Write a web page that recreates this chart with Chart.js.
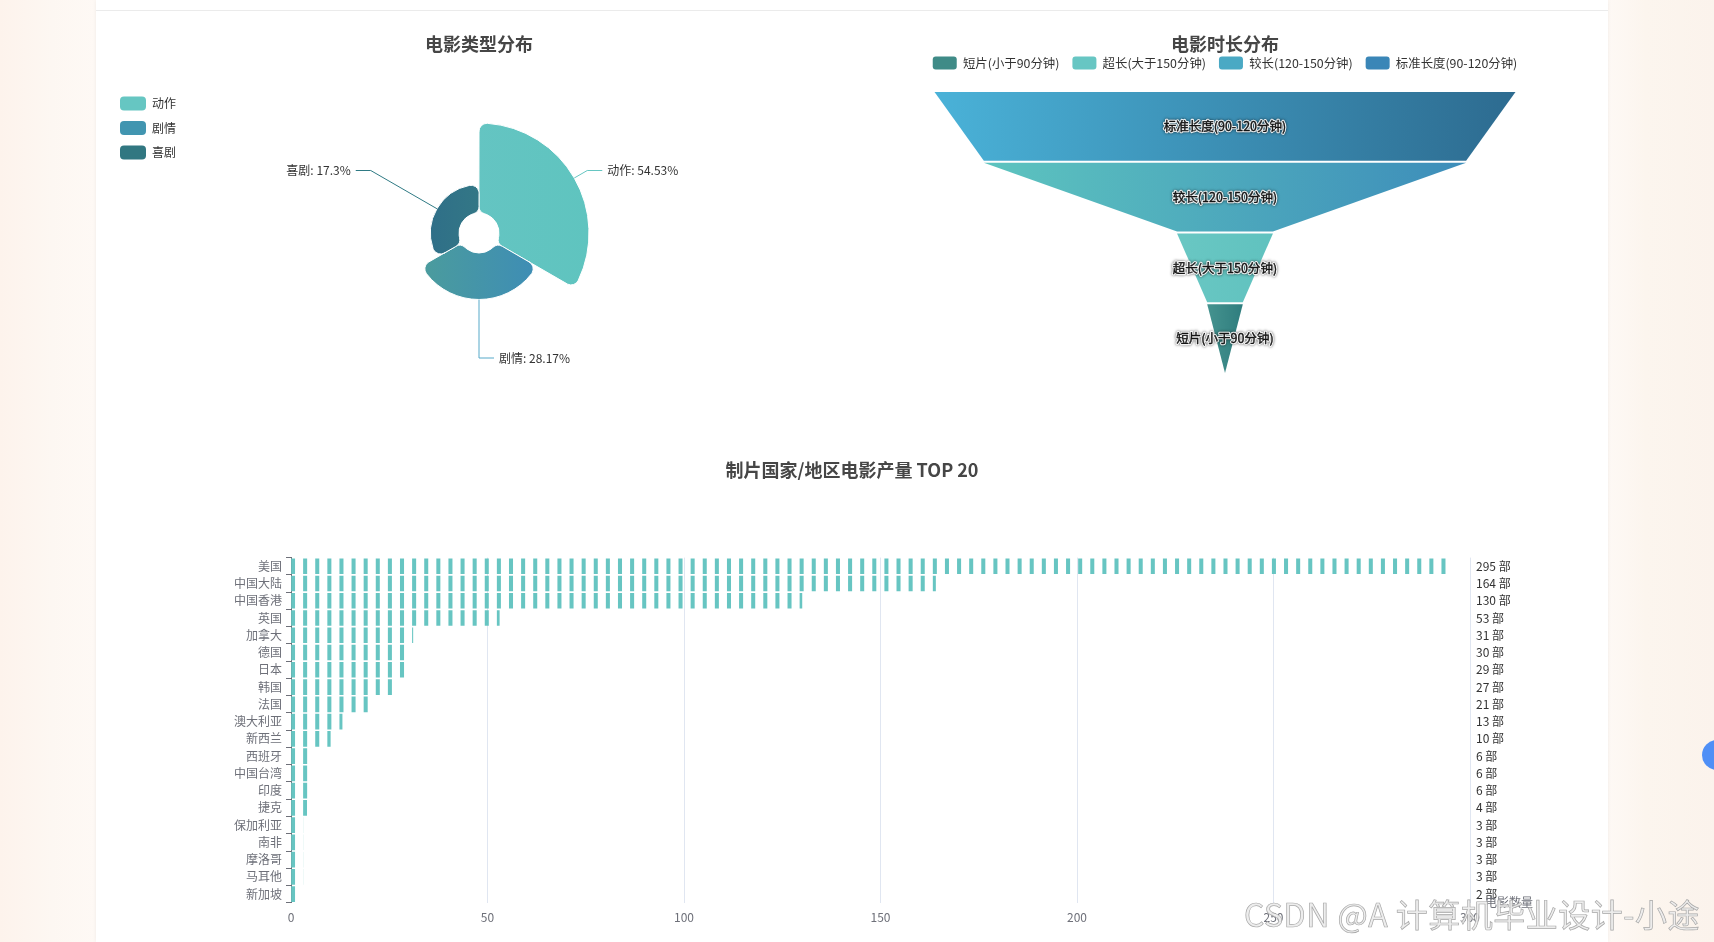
<!DOCTYPE html>
<html lang="zh-CN">
<head>
<meta charset="utf-8">
<title>电影数据分析</title>
<script src="https://cdn.jsdelivr.net/npm/chart.js@4.4.1/dist/chart.umd.min.js"></script>
<style>
  html, body { margin: 0; padding: 0; }
  body {
    width: 1714px; height: 942px; overflow: hidden; position: relative;
    background: linear-gradient(90deg, #fdf3ec 0%, #fdf7f2 3%, #fef9f5 5.6%, #fef9f5 93.8%, #fcf5ee 96%, #fbf3ec 100%);
    font-family: "Noto Sans CJK SC", sans-serif;
  }
  .card { position: absolute; left: 96px; top: 0; width: 1512px; height: 942px; background: #fff; box-shadow: 0 0 4px rgba(0,0,0,0.06); }
  .divider { position: absolute; left: 96px; top: 10px; width: 1512px; height: 1px; background: #ebebeb; }
  .box { position: absolute; }
  .watermark {
    position: absolute; left: 1244px; top: 890px; font-size: 32px; white-space: nowrap;
    color: rgba(235,235,235,0.9); -webkit-text-stroke: 0.7px #a8a8a8; letter-spacing: 0.5px;
  }
  .fab { position: absolute; left: 1702px; top: 740px; width: 30px; height: 30px; border-radius: 50%; background: #4f8ff6; }
</style>
</head>
<body>
<div class="card"></div>
<div class="divider"></div>
<div class="box" style="left:96px;top:0;width:766px;height:400px"><canvas id="genreChart"></canvas></div>
<div class="box" style="left:853px;top:0;width:744px;height:400px"><canvas id="durationChart"></canvas></div>
<div class="box" style="left:96px;top:440px;width:1512px;height:502px"><canvas id="countryChart"></canvas></div>
<div class="watermark">CSDN @A 计算机毕业设计-小途</div>
<div class="fab"></div>
<script>
/* Valors per tots */
const FONT = '"Noto Sans CJK SC", "Microsoft YaHei", sans-serif'
Chart.defaults.font.family = FONT
Chart.defaults.font.size = 12
Chart.defaults.color = '#333'

/* 电影类型 */
const genreLabels = ['动作', '剧情', '喜剧']
const genreShares = [54.53, 28.17, 17.3]
const genreColors = [['#69c5c5', '#5fc4bf'], ['#4c9d9b', '#3d8cb7'], ['#2f6f88', '#377f84']]
const genreLegendColors = ['#66c6c2', '#4195b0', '#317781']
const genreLineColors = ['#66c6c2', '#56a9c9', '#2f7a84']

/* 电影时长 */
const durationLabels = ['短片(小于90分钟)', '超长(大于150分钟)', '较长(120-150分钟)', '标准长度(90-120分钟)']
const durationCounts = [13, 35, 176, 212]
const durationColors = [['#45938f', '#2f7d7e'], ['#69c7c3', '#60c2bf'], ['#5dc4bf', '#3d8dba'], ['#4ab2d8', '#2d6b90']]
const durationLegendColors = ['#3f8b87', '#67c6c3', '#4aa9c4', '#3a86b7']

/* 国家/地区产量 */
const countryLabels = ['美国', '中国大陆', '中国香港', '英国', '加拿大', '德国', '日本', '韩国', '法国', '澳大利亚',
  '新西兰', '西班牙', '中国台湾', '印度', '捷克', '保加利亚', '南非', '摩洛哥', '马耳他', '新加坡']
const countryCounts = [295, 164, 130, 53, 31, 30, 29, 27, 21, 13, 10, 6, 6, 6, 4, 3, 3, 3, 3, 2]
const countryTicks = [0, 300]

const titleFont = { size: 18, weight: 'bold' }

/* ---------- 玫瑰图 ---------- */
const ROSE_INNER = 20
const ROSE_OUTER = 110

const roseFill = (c) => {
    const chart = c.chart
    const r = chart.scales.r
    if (!chart.chartArea || !r || c.type !== 'data') return genreLegendColors[c.dataIndex]
    const rr = r.getDistanceFromCenterForValue(genreShares[c.dataIndex])
    const g = chart.ctx.createLinearGradient(r.xCenter - rr, 0, r.xCenter + rr, 0)
    g.addColorStop(0, genreColors[c.dataIndex][0])
    g.addColorStop(1, genreColors[c.dataIndex][1])
    return g
}

const roseRadius = {
    id: 'roseRadius',
    afterLayout(chart) {
        // el radi creix amb el valor, des del forat interior
        const r = chart.scales.r
        const top = Math.max(...genreShares)
        const span = top * r.drawingArea / (ROSE_OUTER - ROSE_INNER)
        r.min = -ROSE_INNER * span / r.drawingArea
        r.max = r.min + span
    },
    afterDatasetsUpdate(chart) {
        const r = chart.scales.r
        chart.getDatasetMeta(0).data.forEach(arc => { arc.innerRadius = r.getDistanceFromCenterForValue(0) })
    },
    afterDatasetsDraw(chart) {
        const ctx = chart.ctx
        const arcs = chart.getDatasetMeta(0).data
        const reach = Math.max(...arcs.map(a => a.outerRadius)) + 15
        arcs.forEach((arc, i) => {
            const mid = (arc.startAngle + arc.endAngle) / 2
            const cos = Math.cos(mid), sin = Math.sin(mid)
            const dir = cos > -1e-6 ? 1 : -1
            const x1 = arc.x + cos * reach, y1 = arc.y + sin * reach
            ctx.save()
            ctx.strokeStyle = genreLineColors[i]
            ctx.lineWidth = 1
            ctx.beginPath()
            ctx.moveTo(arc.x + cos * arc.outerRadius, arc.y + sin * arc.outerRadius)
            ctx.lineTo(x1, y1)
            ctx.lineTo(x1 + dir * 15, y1)
            ctx.stroke()
            ctx.font = '12px ' + FONT
            ctx.fillStyle = '#333'
            ctx.textAlign = dir > 0 ? 'left' : 'right'
            ctx.textBaseline = 'middle'
            ctx.fillText(`${genreLabels[i]}: ${genreShares[i]}%`, x1 + dir * 20, y1)
            ctx.restore()
        })
    }
}

const renderGenreChart = () => {
    new Chart('genreChart', {
        type: 'polarArea',
        data: {
            labels: genreLabels,
            datasets: [{
                data: genreShares,
                backgroundColor: roseFill,
                borderColor: '#fff',
                borderWidth: 1,
                borderRadius: 8
            }]
        },
        options: {
            animation: false,
            maintainAspectRatio: false,
            layout: { padding: { left: 13.5, right: 90, bottom: 20 } },
            scales: { r: { display: false } },
            plugins: {
                title: {
                    display: true, fullSize: false, text: '电影类型分布', color: '#464646', font: titleFont,
                    padding: { top: 33.2, bottom: 31.2 }
                },
                legend: {
                    position: 'left',
                    align: 'start',
                    fullSize: false,
                    labels: {
                        boxWidth: 26, boxHeight: 14, padding: 10.5, color: '#333',
                        generateLabels: () => genreLabels.map((text, i) => ({
                            text, index: i, fillStyle: genreLegendColors[i], strokeStyle: genreLegendColors[i],
                            lineWidth: 0, hidden: false, borderRadius: 4, fontColor: '#333'
                        }))
                    }
                },
                tooltip: { enabled: false }
            }
        },
        plugins: [roseRadius]
    })
}

/* ---------- 漏斗图 ---------- */
const FUNNEL_MAX_SIZE = 0.931
const funnelOrder = durationCounts.map((v, i) => i).sort((a, b) => durationCounts[b] - durationCounts[a])
const funnelTop = Math.max(...durationCounts)

const legendGap = (gap) => ({
    id: 'legendGap',
    beforeInit(chart) {
        const fit = chart.legend.fit
        chart.legend.fit = function () { fit.call(this); this.height += gap }
    }
})

const funnelShape = {
    id: 'funnelShape',
    beforeDatasetDraw(chart, args) {
        const ctx = chart.ctx
        const bars = args.meta.data
        bars.forEach((bar, i) => {
            const k = funnelOrder[i]
            const next = bars[i + 1]
            const mid = (bar.x + bar.base) / 2
            const top = bar.y - bar.height / 2 + 1
            const bottom = bar.y + bar.height / 2 - 1
            const g = ctx.createLinearGradient(bar.base, 0, bar.x, 0)
            g.addColorStop(0, durationColors[k][0])
            g.addColorStop(1, durationColors[k][1])
            ctx.save()
            ctx.beginPath()
            ctx.moveTo(bar.base, top)
            ctx.lineTo(bar.x, top)
            ctx.lineTo(next ? next.x : mid, bottom)
            ctx.lineTo(next ? next.base : mid, bottom)
            ctx.closePath()
            ctx.fillStyle = g
            ctx.fill()
            ctx.restore()
        })
        return false
    },
    afterDatasetsDraw(chart) {
        const ctx = chart.ctx
        chart.getDatasetMeta(0).data.forEach((bar, i) => {
            const text = durationLabels[funnelOrder[i]]
            const x = (bar.x + bar.base) / 2
            ctx.save()
            ctx.font = '12.5px ' + FONT
            ctx.textAlign = 'center'
            ctx.textBaseline = 'middle'
            ctx.lineJoin = 'round'
            ctx.shadowColor = 'rgba(0,0,0,0.7)'
            ctx.shadowBlur = 3
            ctx.strokeStyle = 'rgba(255,255,255,0.9)'
            ctx.lineWidth = 2.5
            ctx.strokeText(text, x, bar.y)
            ctx.shadowColor = 'transparent'
            ctx.fillStyle = '#141414'
            ctx.fillText(text, x, bar.y)
            ctx.lineWidth = 0.4
            ctx.strokeStyle = '#141414'
            ctx.strokeText(text, x, bar.y)
            ctx.restore()
        })
    }
}

const renderDurationChart = () => {
    new Chart('durationChart', {
        type: 'bar',
        data: {
            labels: funnelOrder.map(i => durationLabels[i]),
            datasets: [{
                data: funnelOrder.map(i => [-durationCounts[i] / 2, durationCounts[i] / 2]),
                backgroundColor: funnelOrder.map(i => durationLegendColors[i]),
                barPercentage: 1,
                categoryPercentage: 1
            }]
        },
        options: {
            indexAxis: 'y',
            animation: false,
            maintainAspectRatio: false,
            layout: { padding: { left: 60, right: 60, bottom: 26 } },
            scales: {
                x: { display: false, min: -funnelTop / 2 / FUNNEL_MAX_SIZE, max: funnelTop / 2 / FUNNEL_MAX_SIZE },
                y: { display: false }
            },
            plugins: {
                title: { display: true, text: '电影时长分布', color: '#464646', font: titleFont, padding: { top: 33.2, bottom: -11.3 } },
                legend: {
                    position: 'top',
                    labels: {
                        boxWidth: 24, boxHeight: 13, padding: 13, color: '#333', font: { size: 12.4 },
                        generateLabels: () => durationLabels.map((text, i) => ({
                            text, index: i, fillStyle: durationLegendColors[i], strokeStyle: durationLegendColors[i],
                            lineWidth: 0, hidden: false, borderRadius: 3, fontColor: '#333'
                        }))
                    }
                },
                tooltip: { enabled: false }
            }
        },
        plugins: [legendGap(11.6), funnelShape]
    })
}

/* ---------- 国家/地区 TOP 20 ---------- */
const SYMBOL_WIDTH = 4
const SYMBOL_PERIOD = 12.11
let symbolPattern = null

const symbolFill = (c) => {
    const chart = c.chart
    if (!chart.chartArea) return '#67c5c2'
    if (!symbolPattern) {
        const tile = document.createElement('canvas')
        tile.width = 12
        tile.height = 1
        const t = tile.getContext('2d')
        t.fillStyle = '#67c5c2'
        t.fillRect(0, 0, SYMBOL_WIDTH, 1)
        symbolPattern = chart.ctx.createPattern(tile, 'repeat')
        const x0 = chart.scales.x.getPixelForValue(0)
        symbolPattern.setTransform(new DOMMatrix().translate(x0, 0).scale(SYMBOL_PERIOD / 12, 1))
    }
    return symbolPattern
}

const axisName = {
    id: 'axisName',
    afterDraw(chart) {
        const { ctx, chartArea } = chart
        ctx.save()
        ctx.font = '12px ' + FONT
        ctx.fillStyle = '#6e7079'
        ctx.textAlign = 'left'
        ctx.textBaseline = 'middle'
        ctx.fillText('电影数量', chartArea.right + 15, chartArea.bottom)
        ctx.restore()
    }
}

const renderCountryChart = () => {
    new Chart('countryChart', {
        type: 'bar',
        data: {
            labels: countryLabels,
            datasets: [{
                label: '电影数量',
                data: countryCounts,
                backgroundColor: symbolFill,
                barThickness: 15,
                borderWidth: 0
            }]
        },
        options: {
            indexAxis: 'y',
            animation: false,
            maintainAspectRatio: false,
            scales: {
                x: {
                    min: countryTicks[0], max: countryTicks[1],
                    ticks: { stepSize: 50, color: '#6e7079', padding: 7 },
                    grid: { color: '#e0e6f1', drawTicks: false },
                    border: { display: false },
                    afterFit: s => { s.height = 39.2 }
                },
                y: {
                    ticks: { color: '#6e7079', padding: 4, autoSkip: false },
                    grid: { drawOnChartArea: false, tickLength: 5, color: '#6e7079' },
                    border: { color: '#6e7079' },
                    afterFit: s => { s.width = 195 }
                },
                y2: {
                    type: 'category',
                    position: 'right',
                    offset: true,
                    grid: { display: false, drawTicks: false },
                    border: { display: false },
                    ticks: { color: '#333', padding: 6, autoSkip: false, callback: (v, i) => countryCounts[i] + ' 部' },
                    afterFit: s => { s.width = 138 }
                }
            },
            plugins: {
                title: { display: true, text: '制片国家/地区电影产量 TOP 20', color: '#464646', font: titleFont, padding: { top: 19.2, bottom: 76.8 } },
                legend: { display: false },
                tooltip: { enabled: false }
            }
        },
        plugins: [axisName]
    })
}

const printCharts = () => {
    renderGenreChart()
    renderDurationChart()
    renderCountryChart()
}

printCharts()
</script>
</body>
</html>
